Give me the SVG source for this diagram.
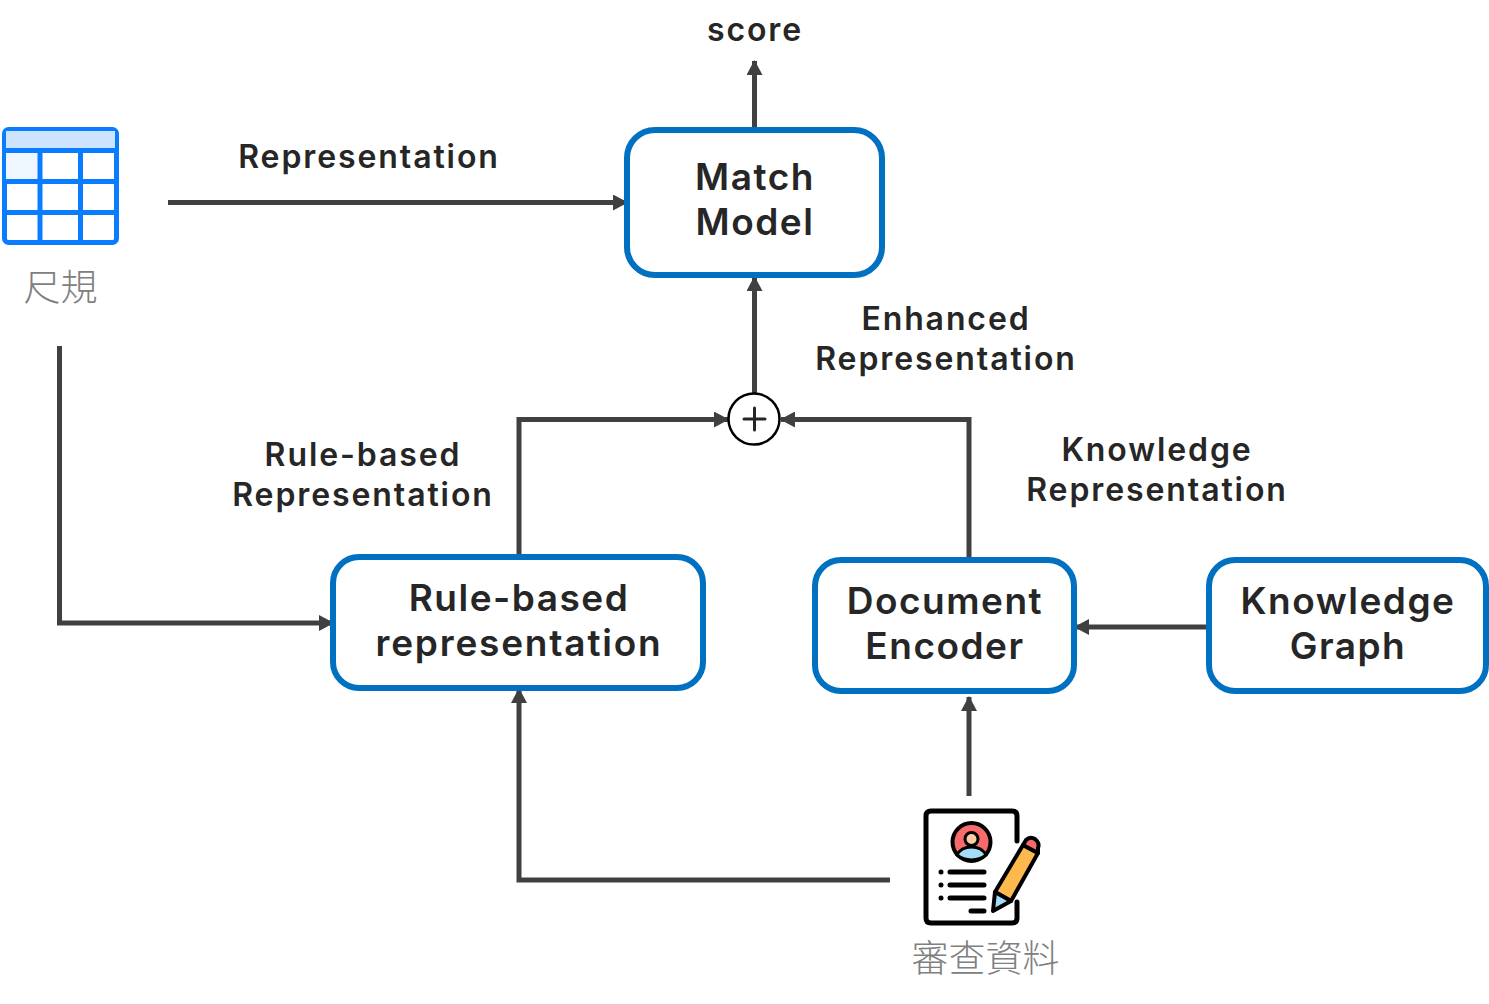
<svg xmlns="http://www.w3.org/2000/svg" width="1489" height="1004" viewBox="0 0 1489 1004">
<style>
text{font-family:Inter,"Noto Sans CJK TC",sans-serif;text-anchor:middle;fill:#262626;font-weight:600}
.l{font-size:32px;letter-spacing:1.9px}
.n{font-size:37px;letter-spacing:1.5px}
.c{font-size:37px;font-weight:300;fill:#808080;font-family:"Noto Sans CJK TC",sans-serif}
.b{fill:#fff;stroke:#0070c0;stroke-width:6}
.w{fill:none;stroke:#404040;stroke-width:5}
.k{fill:none;stroke:#000;stroke-width:5;stroke-linecap:round;stroke-linejoin:round}
</style>
<defs><marker id="a" markerUnits="userSpaceOnUse" markerWidth="16" markerHeight="16" refX="14" refY="8" orient="auto"><path d="M0 0L15 8L0 16Z" fill="#404040"/></marker></defs>
<rect width="1489" height="1004" fill="#fff"/>
<g id="connectors">
<path class="w" marker-end="url(#a)" d="M168 202.500H627"/>
<path class="w" marker-end="url(#a)" d="M754.500 131V61"/>
<path class="w" marker-end="url(#a)" d="M754.500 394V277"/>
<path class="w" marker-end="url(#a)" d="M519 557V419.500H728"/>
<path class="w" marker-end="url(#a)" d="M969 557V419.500H781"/>
<path class="w" marker-end="url(#a)" d="M59.500 346V623H333"/>
<path class="w" marker-end="url(#a)" d="M1209 627H1075"/>
<path class="w" marker-end="url(#a)" d="M969 796V697"/>
<path class="w" marker-end="url(#a)" d="M890 880H519V689"/>
</g>
<g id="table">
<rect x="4.500" y="129.500" width="112" height="113" rx="4" fill="#fff" stroke="#0a7cff" stroke-width="5"/>
<rect x="6" y="131" width="109" height="18" fill="#cde4ff"/>
<rect x="6" y="152" width="32" height="28" fill="#eef6ff"/>
<path d="M4 150.500H117M4 181.500H117M4 212.500H117M40 150V243M80.500 150V243" fill="none" stroke="#0a7cff" stroke-width="5"/>
<text class="c" x="60.500" y="301">尺規</text>
</g>
<g id="match-model"><rect class="b" x="627" y="130" width="255" height="145" rx="28"/><text class="n" x="755" y="190">Match</text><text class="n" x="755" y="235">Model</text></g>
<g id="sum"><circle cx="754" cy="419" r="25.500" fill="#fff" stroke="#000" stroke-width="2.500"/><path d="M744 419H765M754.500 408V430" stroke="#262626" stroke-width="3" stroke-linecap="round"/></g>
<g id="rule-based"><rect class="b" x="333" y="557" width="370" height="131" rx="26"/><text class="n" x="519" y="611">Rule-based</text><text class="n" x="519" y="656" style="letter-spacing:1.8px">representation</text></g>
<g id="document-encoder"><rect class="b" x="815" y="560" width="259" height="131" rx="26"/><text class="n" x="945" y="614">Document</text><text class="n" x="945" y="659">Encoder</text></g>
<g id="knowledge-graph"><rect class="b" x="1209" y="560" width="277" height="131" rx="26"/><text class="n" x="1348" y="614">Knowledge</text><text class="n" x="1348" y="659">Graph</text></g>
<g id="labels">
<text class="l" x="755" y="41">score</text>
<text class="l" x="369" y="168">Representation</text>
<text class="l" x="946" y="330">Enhanced</text>
<text class="l" x="946" y="370">Representation</text>
<text class="l" x="363" y="466">Rule-based</text>
<text class="l" x="363" y="506">Representation</text>
<text class="l" x="1157" y="461">Knowledge</text>
<text class="l" x="1157" y="501">Representation</text>
</g>
<g id="document">
<path d="M1017 841V816Q1017 811 1012 811H931Q926 811 926 816V918Q926 923 931 923H1012Q1017 923 1017 918V902" class="k"/>
<circle cx="971.500" cy="842" r="19" fill="#f96a6a" stroke="#000" stroke-width="4"/>
<path d="M957 855Q961 847 971.500 847Q982 847 986 855Q980 860 971.500 860Q963 860 957 855Z" fill="#a5dcf7" stroke="#000" stroke-width="3"/>
<circle cx="971.500" cy="839" r="6.500" fill="#fbcda4" stroke="#000" stroke-width="3"/>
<path class="k" d="M950 872H984M950 885H984M950 898H984M971 911H984"/>
<circle cx="941" cy="872" r="2.500"/><circle cx="941" cy="885" r="2.500"/><circle cx="941" cy="898" r="2.500"/>
<path d="M1023 845L1038 853L1011 901L995 892Z" fill="#fdb94d" stroke="#000" stroke-width="4" stroke-linejoin="round"/>
<path d="M995 892L1011 901L993 911Z" fill="#a5dcf7" stroke="#000" stroke-width="4" stroke-linejoin="round"/>
<path d="M1023 845L1026 840Q1030 836 1035 839Q1040 843 1038 848L1038 853Z" fill="#f96a6a" stroke="#000" stroke-width="4" stroke-linejoin="round"/>
<text class="c" x="985.500" y="972">審查資料</text>
</g>
</svg>
